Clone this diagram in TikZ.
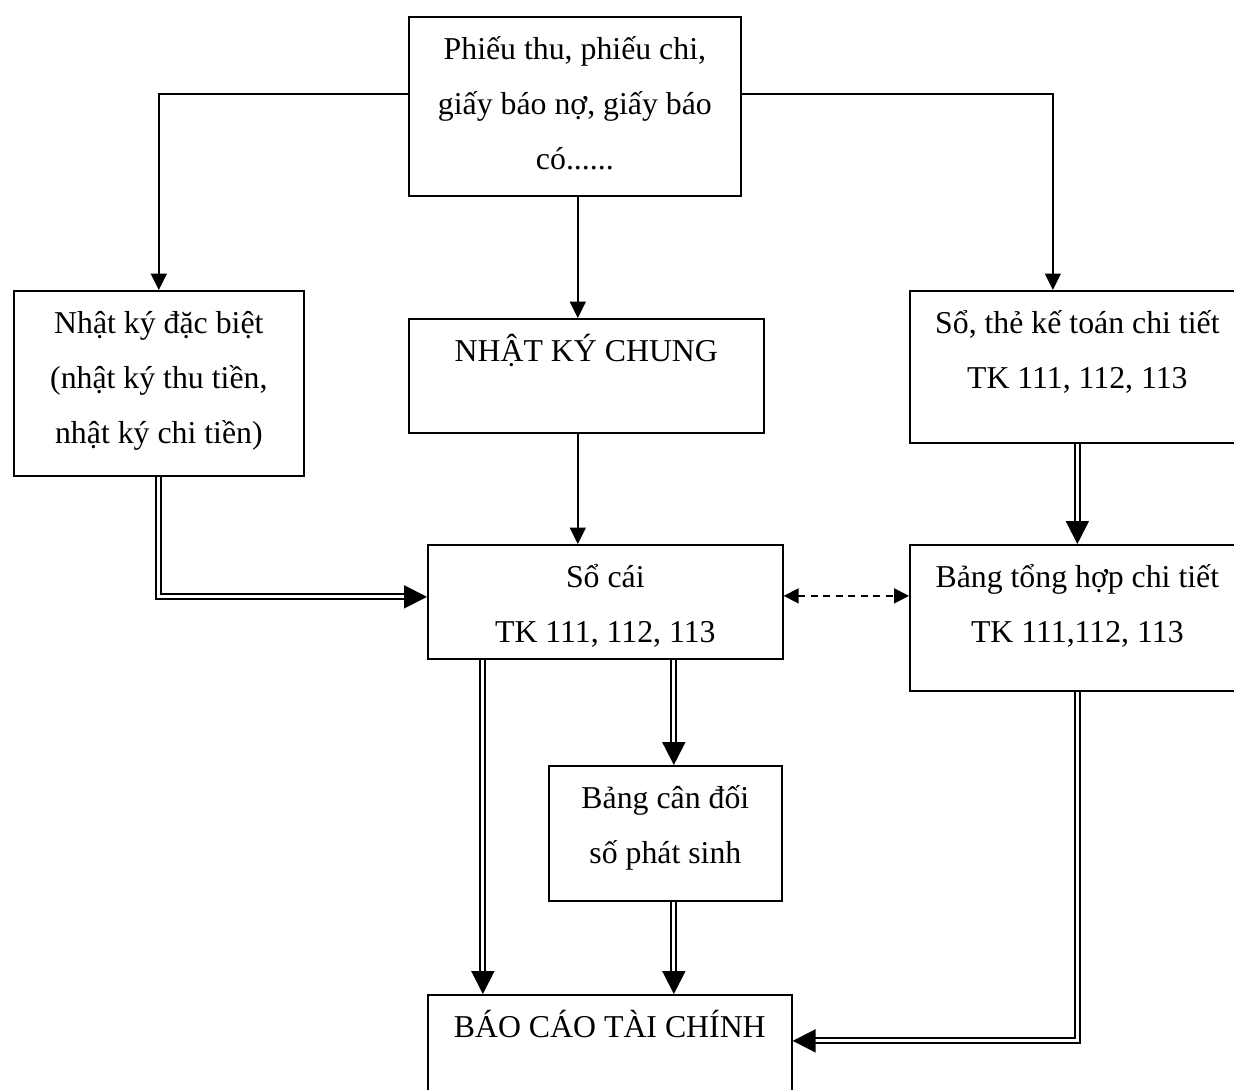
\documentclass[tikz,border=0pt]{standalone}
\usepackage{fontspec}
\setmainfont{Liberation Serif}
\usepackage{tikz}
\usetikzlibrary{arrows.meta}

% text block at the top of a box: width, height, lines
\newcommand{\boxtext}[3]{\parbox[c][#2][t]{#1}{\centering\rule{0pt}{0.85cm}#3}}

\begin{document}
\begin{tikzpicture}[x=0.02cm, y=-0.02cm,
    every node/.style={font=\fontsize{18.1pt}{31.3pt}\selectfont},
    box/.style={draw, line width=1pt, inner sep=0pt, anchor=north west},
    arr/.style={line width=1pt, -{Triangle[length=0.33cm, width=0.32cm]}},
    dbl/.style={double, double distance=1.8pt, line width=1.1pt, -{Triangle[length=0.46cm, width=0.46cm]}},
    dasharr/.style={line width=1pt, dash pattern=on 0.14cm off 0.11cm,
      {Triangle[length=0.3cm, width=0.3cm]}-{Triangle[length=0.3cm, width=0.3cm]}}]

  % page frame
  \path[use as bounding box, clip] (0,0) rectangle (1234,1089);

  % boxes
  \node[box] (phieu) at (408,16) {\boxtext{6.64cm}{3.58cm}{Phiếu thu, phiếu chi,\\ giấy báo nợ, giấy báo\\ có......}};
  \node[box] (dacbiet) at (13,290) {\boxtext{5.80cm}{3.70cm}{Nhật ký đặc biệt\\ (nhật ký thu tiền,\\ nhật ký chi tiền)}};
  \node[box] (chung) at (408,318) {\boxtext{7.10cm}{2.28cm}{NHẬT KÝ CHUNG}};
  \node[box] (chitiet) at (909,290) {\boxtext{6.70cm}{3.04cm}{Sổ, thẻ kế toán chi tiết\\ TK 111, 112, 113}};
  \node[box] (socai) at (427,544) {\boxtext{7.10cm}{2.28cm}{Sổ cái\\ TK 111, 112, 113}};
  \node[box] (tonghop) at (909,544) {\boxtext{6.70cm}{2.92cm}{Bảng tổng hợp chi tiết\\ TK 111,112, 113}};
  \node[box] (candoi) at (548,765) {\boxtext{4.66cm}{2.70cm}{Bảng cân đối\\ số phát sinh}};
  \node[box] (baocao) at (427,994) {\boxtext{7.28cm}{3.60cm}{BÁO CÁO TÀI CHÍNH}};

  % single arrows
  \draw[arr] ([yshift=0.25cm]phieu.west) -| (dacbiet.north);
  \draw[arr] ([yshift=0.25cm]phieu.east) -| ([xshift=-0.49cm]chitiet.north);
  \draw[arr] ([xshift=0.06cm]phieu.south) -- ([xshift=0.06cm]phieu.south |- chung.north);
  \draw[arr] ([xshift=-0.17cm]chung.south) -- ([xshift=-0.17cm]chung.south |- socai.north);

  % double arrows
  \draw[dbl] (dacbiet.south) |- ([yshift=0.1cm]socai.west);
  \draw[dbl] (chitiet.south) -- (tonghop.north);
  \draw[dbl] ([xshift=-2.45cm]socai.south) -- ([xshift=-2.45cm]socai.south |- baocao.north);
  \draw[dbl] ([xshift=1.37cm]socai.south) -- ([xshift=1.37cm]socai.south |- candoi.north);
  \draw[dbl] ([xshift=0.17cm]candoi.south) -- ([xshift=0.17cm]candoi.south |- baocao.north);
  \draw[dbl] (tonghop.south) |- ([yshift=0.88cm]baocao.east);

  % cross-check
  \draw[dasharr] ([yshift=0.12cm]socai.east) -- ([yshift=0.12cm]socai.east -| tonghop.west);
\end{tikzpicture}
\end{document}
